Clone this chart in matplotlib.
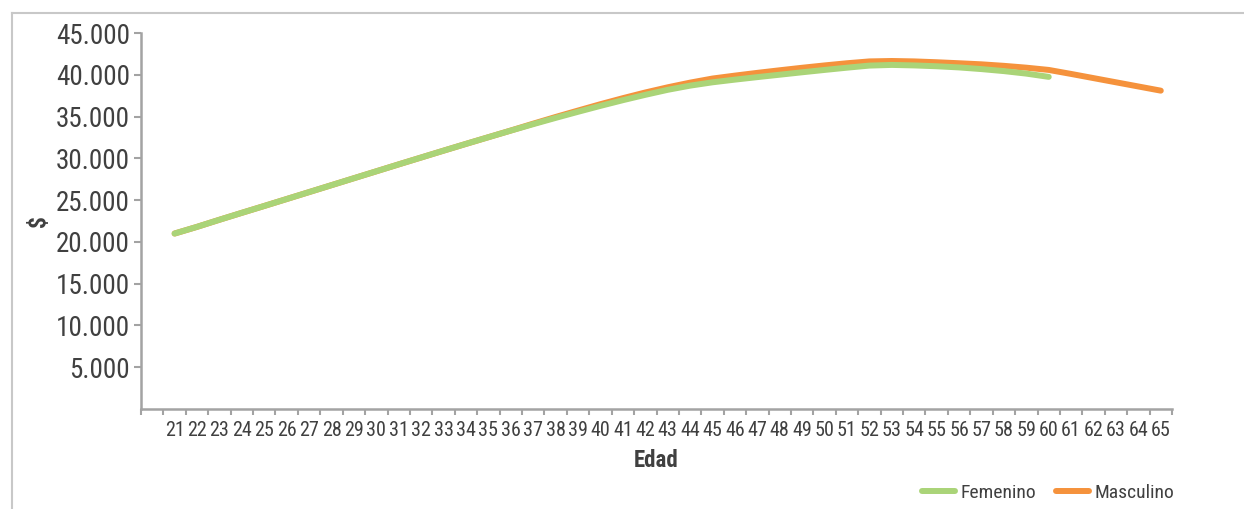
import matplotlib
matplotlib.use('Agg')
import matplotlib.pyplot as plt
from matplotlib import font_manager as fm
from matplotlib.lines import Line2D
from matplotlib.ticker import FuncFormatter

# busca una fuente estrecha instalada; si no hay, DejaVu Sans
fuentes = fm.fontManager.ttflist
nombres = {f.name for f in fuentes}
estrecha = None
for n in ['Liberation Sans Narrow', 'Roboto Condensed', 'Open Sans Condensed',
          'DejaVu Sans Condensed', 'Noto Sans Condensed', 'Arial Narrow']:
    if n in nombres:
        estrecha = (n, 'normal')
        break
if estrecha is None:
    for f in fuentes:
        if 'condensed' in str(f.stretch) and f.style == 'normal':
            estrecha = (f.name, f.stretch)
            break
if estrecha is None:
    estrecha = ('DejaVu Sans', 'normal')
    escala = 0.8
else:
    escala = 1.0

plt.rcParams['font.family'] = [estrecha[0], 'DejaVu Sans']
plt.rcParams['font.stretch'] = estrecha[1]

edades = list(range(21, 66))

femenino = [21000, 21800, 22650, 23480, 24300, 25130, 25960, 26790, 27620, 28450,
            29280, 30100, 30920, 31730, 32530, 33320, 34090, 34840, 35570, 36280,
            36960, 37600, 38200, 38700, 39100, 39420, 39720, 40010, 40300, 40580,
            40850, 41100, 41180, 41120, 41020, 40880, 40680, 40440, 40140, 39750]

masculino = [21000, 21800, 22650, 23480, 24300, 25130, 25960, 26790, 27620, 28450,
             29280, 30100, 30920, 31730, 32530, 33330, 34150, 34950, 35720, 36480,
             37200, 37880, 38500, 39060, 39550, 39900, 40230, 40540, 40840, 41120,
             41380, 41600, 41650, 41600, 41500, 41380, 41250, 41070, 40850, 40580,
             40100, 39600, 39100, 38600, 38100]

yticks = [5000, 10000, 15000, 20000, 25000, 30000, 35000, 40000, 45000]

verde = '#aad478'
naranja = '#f5923c'
gris = '#a3a3a3'
texto = '#404040'

fig = plt.figure(figsize=(12.44, 5.09), dpi=100)
ax = fig.add_axes([141 / 1244, 1 - 409 / 509, (1172 - 141) / 1244, (409 - 33) / 509])

ax.plot(edades[:len(femenino)], femenino, color=verde, lw=4.3,
        solid_capstyle='round', label='Femenino', zorder=3)
ax.plot(edades, masculino, color=naranja, lw=4.3,
        solid_capstyle='round', label='Masculino', zorder=2)

ax.set_xlim(19.5, 65.5)
ax.set_ylim(0, 45000)

ax.set_yticks(yticks)
ax.yaxis.set_major_formatter(FuncFormatter(lambda v, p: f'{int(v):,}'.replace(',', '.')))
ax.tick_params(axis='y', length=5, width=1.5, color=gris, labelsize=19.5 * escala,
               labelcolor=texto, pad=3)

ax.set_xticks(edades)
ax.set_xticklabels([str(e) for e in edades])
ax.set_xticks([e - 0.5 for e in range(20, 67)], minor=True)
ax.tick_params(axis='x', which='major', length=0, labelsize=14.5 * escala ** 2,
               labelcolor=texto, pad=9)
ax.tick_params(axis='x', which='minor', length=4, width=1.5, color=gris)

for s in ['top', 'right']:
    ax.spines[s].set_visible(False)
for s in ['left', 'bottom']:
    ax.spines[s].set_color(gris)
    ax.spines[s].set_linewidth(1.8)

ax.set_xlabel('Edad', fontsize=16.5 * escala, fontweight='bold', color=texto, labelpad=6)
ax.set_ylabel('$', fontsize=17 * escala, fontweight='bold', color=texto)
ax.yaxis.set_label_coords((50 - 141) / 1031, 0.5)

fig.legend(loc='center right', bbox_to_anchor=(1192 / 1244, 1 - 493 / 509),
           ncol=2, frameon=False, fontsize=14 * escala, handlelength=1.7,
           handletextpad=0.3, columnspacing=1.0, labelcolor=texto)

# marco exterior
fig.add_artist(Line2D([11.5 / 1244, 11.5 / 1244], [0, 1 - 13 / 509],
                      transform=fig.transFigure, color='#c8c8c8', lw=1.5))
fig.add_artist(Line2D([11.5 / 1244, 1], [1 - 13 / 509, 1 - 13 / 509],
                      transform=fig.transFigure, color='#c8c8c8', lw=1.5))

fig.savefig('out.png', dpi=100)
